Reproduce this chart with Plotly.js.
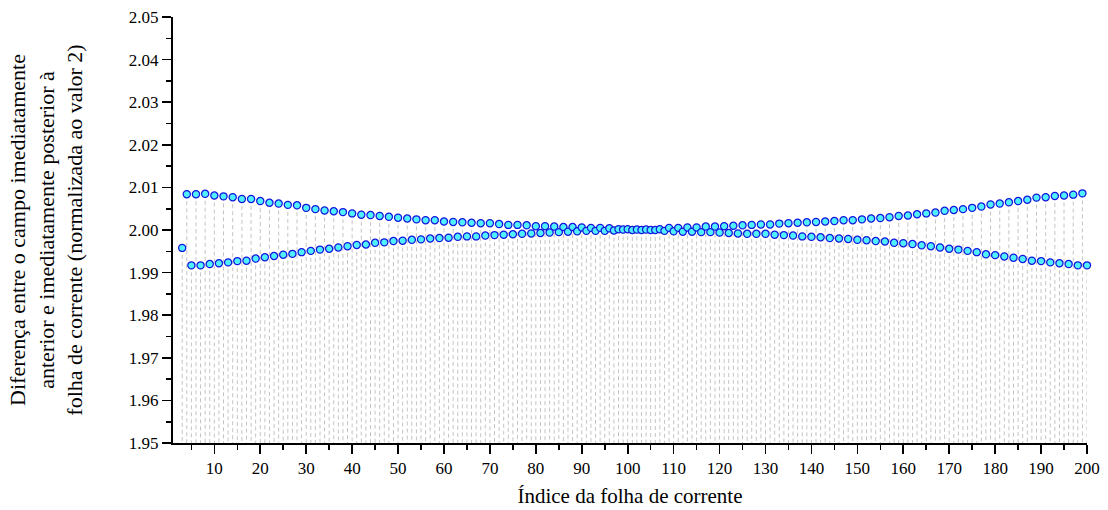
<!DOCTYPE html>
<html>
<head>
<meta charset="utf-8">
<script src="https://cdn.plot.ly/plotly-3.0.1.min.js"></script>
<style>
  html, body { margin: 0; padding: 0; background: #fff; }
  #chart { width: 1108px; height: 510px; }
</style>
</head>
<body>
<div id="chart"></div>
<script>
// Current-sheet index of the first sample
const firstSheet = 3;

// Field jump across each current sheet (normalised to 2), sheets 3..200
const fieldJump = [
  1.9958, 2.0084, 1.9917, 2.0084, 1.9917, 2.0085, 1.9920, 2.0081, 1.9922, 2.0079, // 3-12
  1.9924, 2.0077, 1.9927, 2.0073, 1.9928, 2.0073, 1.9933, 2.0068, 1.9936, 2.0064, // 13-22
  1.9939, 2.0062, 1.9942, 2.0059, 1.9944, 2.0058, 1.9948, 2.0052, 1.9951, 2.0049, // 23-32
  1.9954, 2.0046, 1.9956, 2.0044, 1.9959, 2.0042, 1.9962, 2.0039, 1.9965, 2.0036, // 33-42
  1.9966, 2.0035, 1.9970, 2.0033, 1.9971, 2.0031, 1.9974, 2.0029, 1.9975, 2.0027, // 43-52
  1.9977, 2.0025, 1.9978, 2.0023, 1.9980, 2.0023, 1.9981, 2.0020, 1.9982, 2.0019, // 53-62
  1.9984, 2.0018, 1.9985, 2.0017, 1.9985, 2.0016, 1.9987, 2.0016, 1.9988, 2.0014, // 63-72
  1.9989, 2.0012, 1.9990, 2.0012, 1.9991, 2.0011, 1.9992, 2.0009, 1.9993, 2.0009, // 73-82
  1.9994, 2.0008, 1.9995, 2.0007, 1.9996, 2.0007, 1.9997, 2.0006, 1.9998, 2.0005, // 83-92
  1.9998, 2.0005, 1.9998, 2.0004, 1.9999, 2.0002, 2.0001, 2.0002, 2.0000, 2.0001, // 93-102
  2.0000, 2.0001, 2.0000, 2.0000, 2.0002, 1.9998, 2.0005, 1.9997, 2.0005, 1.9996, // 103-112
  2.0006, 1.9996, 2.0006, 1.9995, 2.0008, 1.9995, 2.0008, 1.9994, 2.0009, 1.9993, // 113-122
  2.0010, 1.9992, 2.0011, 1.9991, 2.0012, 1.9991, 2.0013, 1.9991, 2.0013, 1.9989, // 123-132
  2.0015, 1.9988, 2.0016, 1.9987, 2.0017, 1.9985, 2.0018, 1.9984, 2.0019, 1.9983, // 133-142
  2.0020, 1.9981, 2.0021, 1.9980, 2.0023, 1.9979, 2.0023, 1.9977, 2.0025, 1.9976, // 143-152
  2.0027, 1.9974, 2.0028, 1.9973, 2.0030, 1.9970, 2.0033, 1.9969, 2.0034, 1.9967, // 153-162
  2.0037, 1.9964, 2.0039, 1.9962, 2.0041, 1.9959, 2.0045, 1.9956, 2.0047, 1.9954, // 163-172
  2.0049, 1.9951, 2.0052, 1.9948, 2.0055, 1.9943, 2.0060, 1.9941, 2.0062, 1.9938, // 173-182
  2.0065, 1.9935, 2.0068, 1.9932, 2.0071, 1.9928, 2.0076, 1.9927, 2.0077, 1.9924, // 183-192
  2.0080, 1.9922, 2.0081, 1.9920, 2.0083, 1.9917, 2.0086, 1.9917                  // 193-200
];

const xRange = [1, 200];
const yRange = [1.95, 2.05];

const xTitle = 'Índice da folha de corrente';
const yTitleLines = [
  'Diferença entre o campo imediatamente',
  'anterior e imediatamente posterior à',
  'folha de corrente (normalizada ao valor 2)'
];

const sheetIndex = fieldJump.map((_, i) => firstSheet + i);

// Drop lines from each marker down to the bottom of the y axis
const dropX = [];
const dropY = [];
sheetIndex.forEach((x, i) => {
  dropX.push(x, x, null);
  dropY.push(fieldJump[i], yRange[0], null);
});

const font = "'Liberation Serif', 'Times New Roman', serif";

const traces = [
  {
    x: dropX, y: dropY,
    type: 'scatter', mode: 'lines',
    line: { color: '#c4c4c4', width: 1, dash: '4px,3px' },
    hoverinfo: 'skip', showlegend: false, cliponaxis: true
  },
  {
    x: sheetIndex, y: fieldJump,
    type: 'scatter', mode: 'markers',
    marker: {
      symbol: 'circle', size: 7.2,
      color: '#50f0ff',
      line: { color: '#1414dc', width: 1.25 }
    },
    showlegend: false, cliponaxis: false
  }
];

const axisCommon = {
  showgrid: false, zeroline: false,
  showline: true, linecolor: '#000', linewidth: 2,
  ticks: 'outside', ticklen: 9, tickwidth: 1.6, tickcolor: '#000',
  tickfont: { family: font, size: 17, color: '#000' },
  mirror: false
};

const layout = {
  width: 1108, height: 510,
  margin: { l: 173, r: 21, t: 17, b: 67 },
  paper_bgcolor: '#fff', plot_bgcolor: '#fff',
  showlegend: false,
  font: { family: font, color: '#000' },
  xaxis: Object.assign({}, axisCommon, {
    range: xRange,
    tickmode: 'linear', tick0: 0, dtick: 10,
    minor: { dtick: 5, ticklen: 5, tickwidth: 1.6, tickcolor: '#000', ticks: 'outside' },
    title: { text: xTitle, font: { family: font, size: 21, color: '#000' }, standoff: 11 }
  }),
  yaxis: Object.assign({}, axisCommon, {
    range: yRange,
    tickmode: 'linear', tick0: 1.95, dtick: 0.01, tickformat: '.2f',
    minor: { dtick: 0.005, ticklen: 5, tickwidth: 1.6, tickcolor: '#000', ticks: 'outside' },
    title: { text: yTitleLines.join('<br>'), font: { family: font, size: 22, color: '#000' }, standoff: 40 }
  })
};

Plotly.newPlot('chart', traces, layout, { displayModeBar: false, staticPlot: true });
</script>
</body>
</html>
